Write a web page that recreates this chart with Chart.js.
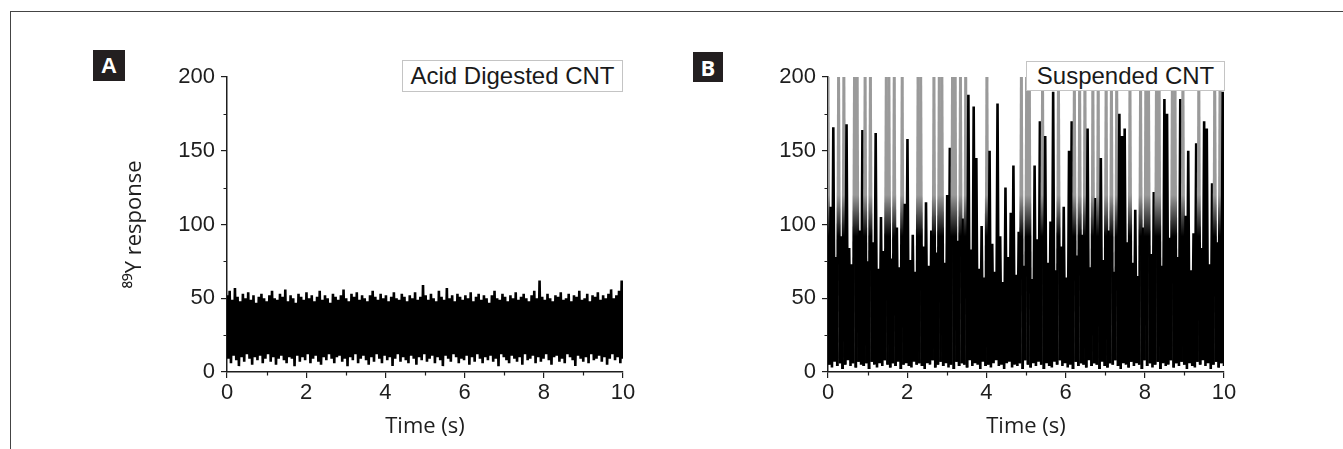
<!DOCTYPE html>
<html>
<head>
<meta charset="utf-8">
<title>89Y response vs time</title>
<script src="https://cdn.jsdelivr.net/npm/chart.js"></script>
<style>
  body { margin: 0; background: #fff; }
  #page { position: relative; width: 1343px; height: 449px; overflow: hidden; }
  .frame { position: absolute; left: 10px; top: 11px; width: 1340px; height: 445px; border-top: 1.5px solid #444; border-left: 1.5px solid #444; }
  canvas { position: absolute; top: 0; }
  #chartA { left: 0; }
  #chartB { left: 601px; }
  .badge { position: absolute; background: #231f20; color: #fff; font-weight: bold; font-size: 22px; text-align: center; }
  #badgeA { left: 93px; top: 50px; width: 32px; height: 31px; line-height: 31px; font-family: 'Liberation Sans', Arial, sans-serif; }
  #badgeB { left: 693px; top: 52px; width: 30px; height: 30px; line-height: 30px; font-family: 'Open Sans', sans-serif; }
  .key { position: absolute; box-sizing: border-box; background: #fff; border: 1px solid #c4c4c4; color: #1a1a1a;
         font-family: 'Liberation Sans', Arial, sans-serif; font-size: 24px; text-align: center; }
  #keyA { left: 402px; top: 60px; width: 221px; height: 32px; line-height: 30px; }
  #keyB { left: 1026px; top: 61px; width: 199px; height: 30px; line-height: 28px; }
</style>
</head>
<body>
<div id="page">
  <div class="frame"></div>
  <canvas id="chartA" width="660" height="449"></canvas>
  <canvas id="chartB" width="660" height="449"></canvas>
  <div class="badge" id="badgeA">A</div>
  <div class="badge" id="badgeB">B</div>
  <div class="key" id="keyA">Acid Digested CNT</div>
  <div class="key" id="keyB">Suspended CNT</div>
</div>
<script>
// acquisition window (s)
const timeSpan = 10;
const xTicks = [0, 2, 4, 6, 8, 10];
const yTicks = [0, 50, 100, 150, 200];

// A: acid digested CNT - upper and lower excursions of the signal
const aHigh = [
  52, 55, 49, 57, 51, 48, 53, 50, 54, 49, 52, 47, 51, 53, 50, 48, 52, 55, 50, 49,
  53, 51, 56, 48, 52, 50, 47, 53, 51, 49, 54, 50, 52, 48, 51, 55, 49, 52, 50, 47,
  53, 51, 49, 52, 56, 50, 48, 53, 51, 54, 49, 52, 50, 48, 52, 55, 51, 49, 53, 50,
  52, 48, 51, 54, 50, 49, 53, 51, 48, 52, 50, 54, 49, 51, 59, 52, 49, 53, 50, 48,
  55, 51, 49, 57, 50, 52, 48, 53, 51, 49, 52, 50, 54, 48, 51, 53, 49, 52, 50, 47,
  52, 55, 50, 49, 53, 51, 48, 52, 50, 54, 49, 51, 53, 50, 48, 52, 55, 50, 62, 51,
  49, 53, 50, 48, 52, 51, 54, 49, 50, 53, 48, 52, 51, 55, 49, 50, 53, 48, 52, 51,
  54, 49, 52, 50, 53, 56, 50, 52, 55, 62
];
const aLow = [
  9, 6, 11, 8, 4, 10, 7, 12, 9, 5, 10, 8, 11, 6, 9, 12, 7, 10, 5, 9,
  11, 8, 6, 10, 9, 4, 11, 7, 10, 8, 12, 6, 9, 11, 7, 5, 10, 8, 12, 9,
  6, 10, 11, 7, 9, 4, 10, 8, 12, 6, 9, 11, 8, 5, 10, 7, 12, 9, 6, 11,
  8, 10, 4, 9, 12, 7, 10, 8, 6, 11, 9, 5, 10, 8, 12, 7, 9, 11, 6, 10,
  8, 4, 11, 9, 7, 12, 10, 6, 9, 8, 11, 5, 10, 7, 12, 9, 6, 10, 8, 11,
  7, 9, 4, 12, 10, 8, 6, 11, 9, 7, 10, 5, 12, 8, 9, 11, 6, 10, 7, 9,
  12, 8, 5, 10, 11, 7, 9, 6, 12, 10, 8, 4, 11, 9, 7, 10, 6, 12, 8, 9,
  11, 7, 10, 5, 9, 12, 8, 10, 6, 9
];

// B: suspended CNT - particle events give spikes (values above 200 run off scale)
const bHigh = [
  230, 112, 166, 78, 230, 92, 230, 168, 84, 73, 230, 230, 96, 164, 230, 75, 230, 88, 162, 70,
  105, 82, 230, 230, 77, 230, 98, 71, 230, 114, 158, 76, 93, 68, 230, 230, 85, 115, 72, 96,
  230, 81, 230, 230, 74, 120, 152, 230, 230, 89, 230, 104, 230, 188, 83, 180, 145, 70, 99, 64,
  230, 150, 87, 68, 182, 92, 61, 125, 78, 108, 140, 66, 95, 230, 72, 230, 230, 63, 140, 90,
  170, 230, 160, 74, 102, 190, 69, 230, 85, 112, 64, 150, 170, 230, 79, 230, 93, 230, 165, 71,
  230, 118, 230, 145, 76, 230, 96, 230, 68, 230, 175, 160, 165, 88, 230, 74, 110, 65, 230, 98,
  230, 230, 80, 122, 230, 230, 72, 185, 175, 91, 230, 230, 78, 185, 230, 106, 150, 69, 94, 155,
  230, 84, 170, 165, 73, 128, 230, 88, 230, 190
];
const bLow = [
  5, 3, 7, 4, 6, 2, 5, 8, 4, 6, 3, 7, 5, 4, 6, 2, 7, 5, 3, 6,
  4, 8, 5, 3, 6, 4, 7, 2, 5, 6, 4, 3, 7, 5, 6, 4, 2, 6, 5, 8,
  3, 5, 7, 4, 6, 3, 5, 2, 7, 4, 6, 5, 3, 8, 4, 6, 5, 2, 7, 4,
  5, 3, 6, 8, 4, 5, 2, 6, 7, 3, 5, 4, 6, 2, 8, 5, 3, 6, 4, 7,
  5, 2, 6, 4, 3, 7, 5, 8, 4, 6, 3, 5, 2, 7, 4, 6, 5, 3, 8, 4,
  6, 5, 2, 7, 4, 3, 6, 5, 8, 4, 2, 6, 5, 3, 7, 4, 6, 5, 2, 8,
  4, 6, 3, 5, 7, 2, 6, 4, 5, 8, 3, 6, 4, 7, 5, 2, 6, 4, 3, 7,
  5, 8, 4, 6, 2, 5, 7, 3, 6, 4
];

// interleave the excursions into one evenly sampled trace
function trace(high, low) {
  const dt = timeSpan / (high.length + low.length - 1);
  const pts = [];
  for (let i = 0; i < high.length; i++) {
    pts.push({ x: 2 * i * dt, y: high[i] });
    pts.push({ x: (2 * i + 1) * dt, y: low[i] });
  }
  return pts;
}

const ink = '#1e1e1e';
const tickFont = { family: "'Liberation Sans', Arial, sans-serif", size: 22 };
const titleFont = { family: "'Open Sans', sans-serif", size: 22 };

// short unlabelled ticks between the labelled ones
const minorTicks = {
  id: 'minorTicks',
  afterDraw(chart) {
    const { ctx, chartArea, scales: { x, y } } = chart;
    ctx.save();
    ctx.strokeStyle = ink;
    ctx.lineWidth = 1.2;
    ctx.beginPath();
    [25, 75, 125, 175].forEach(v => {
      const py = Math.round(y.getPixelForValue(v)) + 0.5;
      ctx.moveTo(chartArea.left - 3.5, py);
      ctx.lineTo(chartArea.left, py);
    });
    [1, 3, 5, 7, 9].forEach(v => {
      const px = Math.round(x.getPixelForValue(v)) + 0.5;
      ctx.moveTo(px, chartArea.bottom);
      ctx.lineTo(px, chartArea.bottom + 3.5);
    });
    ctx.stroke();
    ctx.restore();
  }
};

// off-scale spikes fade to grey above the dense band
function spikeShade(chart) {
  const y = chart.scales.y;
  const g = chart.ctx.createLinearGradient(0, y.getPixelForValue(0), 0, y.getPixelForValue(200));
  g.addColorStop(0, '#000');
  g.addColorStop(0.46, '#000');
  g.addColorStop(0.6, '#9a9a9a');
  g.addColorStop(1, '#9a9a9a');
  return g;
}

function makeChart(id, high, low, showYTitle, shadeSpikes, lineWidth) {
  return new Chart(document.getElementById(id), {
    type: 'line',
    data: {
      datasets: [{
        data: trace(high, low),
        borderColor: '#000',
        borderWidth: lineWidth,
        borderJoinStyle: 'bevel',
        pointRadius: 0,
        tension: 0,
        segment: {
          borderColor: c => shadeSpikes && (c.p0.parsed.y > 200 || c.p1.parsed.y > 200) ? spikeShade(c.chart) : undefined
        }
      }]
    },
    options: {
      responsive: false,
      animation: false,
      layout: { padding: { top: 77, right: 37, bottom: 0, left: 0 } },
      plugins: { legend: { display: false }, tooltip: { enabled: false } },
      scales: {
        x: {
          type: 'linear',
          min: 0,
          max: 10,
          afterBuildTicks: s => { s.ticks = xTicks.map(v => ({ value: v })); },
          afterFit: s => { s.height = 77; },
          ticks: { color: ink, font: tickFont, padding: 2, maxRotation: 0 },
          grid: { drawOnChartArea: false, tickLength: 6, color: ink, lineWidth: 1.2 },
          border: { color: ink, width: 1.5 },
          title: { display: true, text: 'Time (s)', color: ink, font: titleFont, padding: { top: 0, bottom: 9 } }
        },
        y: {
          min: 0,
          max: 200,
          afterBuildTicks: s => { s.ticks = yTicks.map(v => ({ value: v })); },
          afterFit: s => { s.width = 227; },
          ticks: { color: ink, font: tickFont, padding: 6 },
          grid: { drawOnChartArea: false, tickLength: 6, color: ink, lineWidth: 1.2 },
          border: { color: ink, width: 1.5 },
          title: { display: showYTitle, text: '⁸⁹Y response', color: ink, font: titleFont, padding: { top: 122, bottom: 0 } }
        }
      }
    },
    plugins: [minorTicks]
  });
}

makeChart('chartA', aHigh, aLow, true, false, 2.6);
makeChart('chartB', bHigh, bLow, false, true, 2.6);
</script>
</body>
</html>
